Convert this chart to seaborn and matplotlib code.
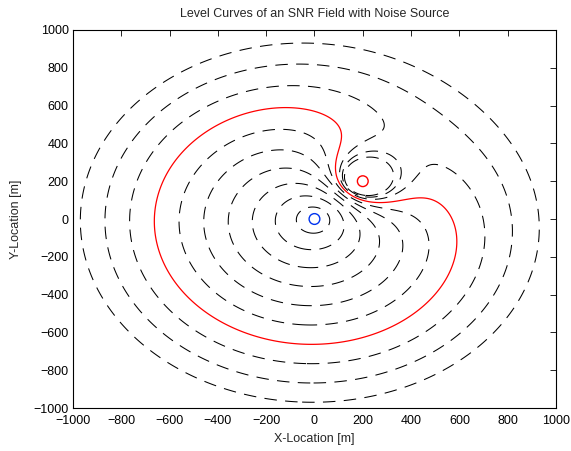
import numpy as np
import matplotlib
matplotlib.use("Agg")
import matplotlib.pyplot as plt
import seaborn as sns

# ---- data ----
signal_xy = [0.0, 0.0]          # signal source location [m]
noise_xy = [200.0, 200.0]       # noise source location [m]
noise_floor_range = 300.0       # range at which noise source equals the noise floor [m]
contour_levels = [100, 200, 300, 400, 500, 600, 800, 900, 1000]   # dashed level curves
threshold_level = [700]                                          # highlighted (red) level
x_ticks = [-1000, -800, -600, -400, -200, 0, 200, 400, 600, 800, 1000]
y_ticks = [-1000, -800, -600, -400, -200, 0, 200, 400, 600, 800, 1000]

# ---- field ----
gx = np.linspace(-1000, 1000, 801)
gy = np.linspace(-1000, 1000, 801)
X, Y = np.meshgrid(gx, gy)
r_s = np.hypot(X - signal_xy[0], Y - signal_xy[1])
r_n = np.hypot(X - noise_xy[0], Y - noise_xy[1])
r_n = np.maximum(r_n, 1e-3)
# equivalent range: SNR ~ 1/(r_s^2 (N0 + Pn/r_n^2))  -> level curves of r_s*sqrt(1+(R/r_n)^2)
field = r_s * np.sqrt(1.0 + (noise_floor_range / r_n) ** 2)

sns.set_theme(style="white")
plt.rcParams["font.family"] = ["Liberation Sans", "DejaVu Sans"]
plt.rcParams["lines.scale_dashes"] = False

fig = plt.figure(figsize=(5.71, 4.51), dpi=100)
ax = fig.add_axes([0.1278, 0.0953, 0.9737 - 0.1278, 0.9335 - 0.0953])

ax.contour(X, Y, field, levels=contour_levels, colors="black",
           linewidths=0.75, linestyles=[(0, (9, 6))])
ax.contour(X, Y, field, levels=threshold_level, colors="red",
           linewidths=0.9, linestyles="solid")

sns.scatterplot(x=[signal_xy[0]], y=[signal_xy[1]], ax=ax, marker="o", s=60,
                facecolors="none", edgecolor="#0033ee", linewidth=1.0, zorder=5)
sns.scatterplot(x=[noise_xy[0]], y=[noise_xy[1]], ax=ax, marker="o", s=60,
                facecolors="none", edgecolor="red", linewidth=1.0, zorder=5)

ax.set_xlim(-1000, 1000)
ax.set_ylim(-1000, 1000)
ax.set_xticks(x_ticks)
ax.set_yticks(y_ticks)
ax.tick_params(direction="in", length=4, width=0.6, top=True, right=True,
               labelsize=9, colors="black")
ax.tick_params(axis="x", pad=5)
ax.tick_params(axis="y", pad=3)
for s in ax.spines.values():
    s.set_linewidth(0.8)
    s.set_color("black")
ax.set_xlabel("X-Location [m]", fontsize=9, labelpad=4)
ax.set_ylabel("Y-Location [m]", fontsize=9, labelpad=8)
ax.set_title("Level Curves of an SNR Field with Noise Source", fontsize=9, pad=9)

fig.savefig("out.png", dpi=100, facecolor="white")
